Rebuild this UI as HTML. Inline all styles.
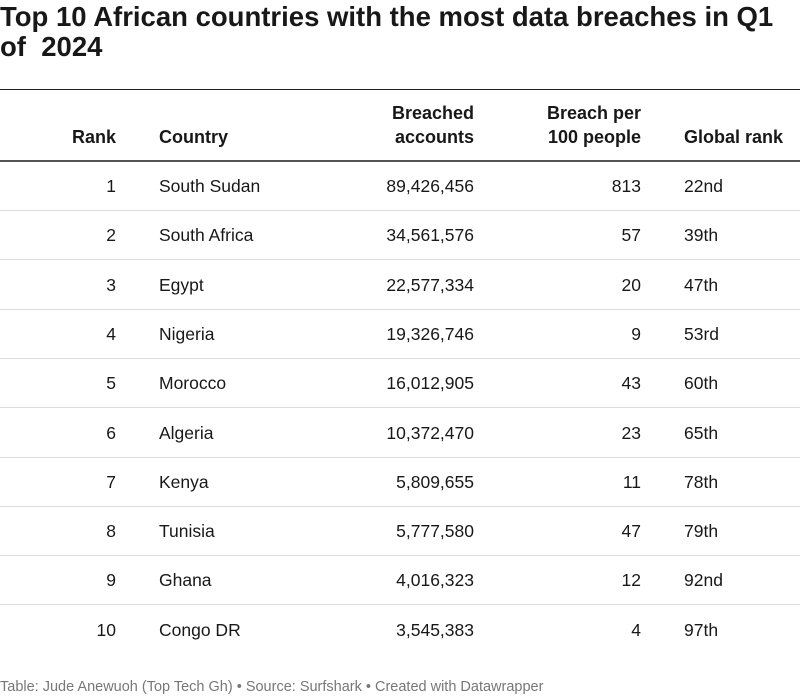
<!DOCTYPE html>
<html><head><style>
body{margin:0;width:800px;height:697px;background:#fff;font-family:"Liberation Sans",Arial,sans-serif;color:#181818;position:relative;overflow:hidden}
.t{position:absolute;left:0;top:2px;font-size:27.5px;font-weight:bold;line-height:30px;width:800px;white-space:nowrap}
.a{position:absolute;white-space:nowrap;font-size:17.5px;line-height:20px}
.r{text-align:right}
.h{font-weight:bold;font-size:18px;line-height:24px}
.line{position:absolute;left:0;width:800px}
.f{position:absolute;left:0;top:679px;font-size:14.5px;color:#777}
</style></head><body>
<div class="t">Top 10 African countries with the most data breaches in Q1<br>of&nbsp; 2024</div>
<div class="line" style="top:89px;height:1px;background:#222"></div>
<div class="line" style="top:160px;height:2px;background:#555"></div>
<div class="a h r" style="right:684px;top:125px">Rank</div>
<div class="a h" style="left:159px;top:125px">Country</div>
<div class="a h r" style="right:326px;top:101px">Breached<br>accounts</div>
<div class="a h r" style="right:159px;top:101px">Breach per<br>100 people</div>
<div class="a h" style="left:684px;top:125px">Global rank</div>
<div id="rows"></div>
<script>
var d=[["1","South Sudan","89,426,456","813","22nd"],["2","South Africa","34,561,576","57","39th"],["3","Egypt","22,577,334","20","47th"],["4","Nigeria","19,326,746","9","53rd"],["5","Morocco","16,012,905","43","60th"],["6","Algeria","10,372,470","23","65th"],["7","Kenya","5,809,655","11","78th"],["8","Tunisia","5,777,580","47","79th"],["9","Ghana","4,016,323","12","92nd"],["10","Congo DR","3,545,383","4","97th"]];
var h="";
d.forEach(function(r,i){var y=176+i*49.3;
h+='<div class="a r" style="right:684px;top:'+y+'px">'+r[0]+'</div>';
h+='<div class="a" style="left:159px;top:'+y+'px">'+r[1]+'</div>';
h+='<div class="a r" style="right:326px;top:'+y+'px">'+r[2]+'</div>';
h+='<div class="a r" style="right:159px;top:'+y+'px">'+r[3]+'</div>';
h+='<div class="a" style="left:684px;top:'+y+'px">'+r[4]+'</div>';
if(i<9)h+='<div class="line" style="top:'+(210+i*49.3)+'px;height:1px;background:#ddd"></div>';});
document.getElementById("rows").innerHTML=h;
</script>
<div class="f">Table: Jude Anewuoh (Top Tech Gh) • Source: Surfshark • Created with Datawrapper</div>
</body></html>
